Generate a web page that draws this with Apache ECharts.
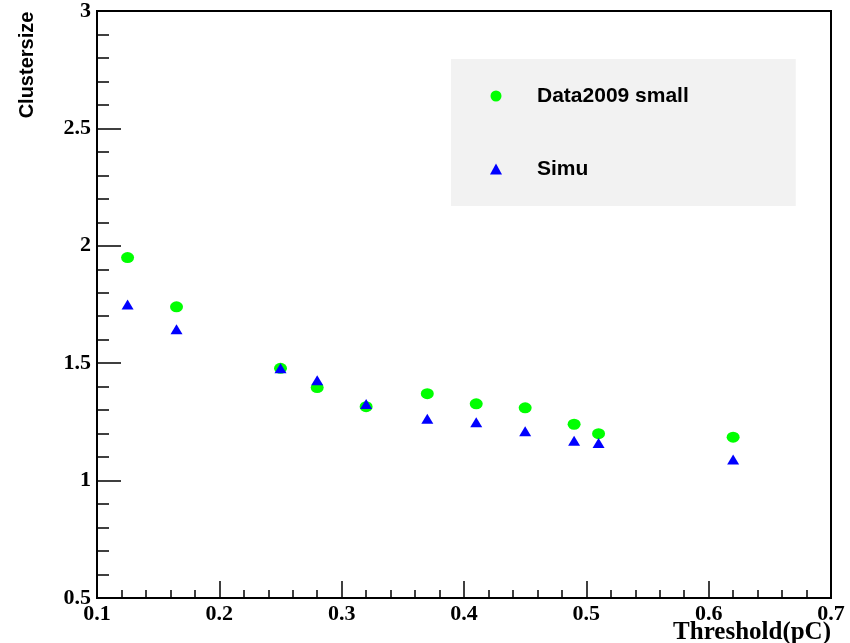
<!DOCTYPE html>
<html>
<head>
<meta charset="utf-8">
<script src="https://cdn.jsdelivr.net/npm/echarts@6/dist/echarts.min.js"></script>
<style>
  html, body { margin: 0; padding: 0; background: #fff; }
  #chart { width: 850px; height: 643px; }
</style>
</head>
<body>
<div id="chart"></div>
<script>
// threshold values (pC)
const thresholds = [0.125, 0.165, 0.25, 0.28, 0.32, 0.37, 0.41, 0.45, 0.49, 0.51, 0.62];
// cluster size, data 2009 small chamber
const dataSmall = [1.95, 1.74, 1.478, 1.396, 1.315, 1.37, 1.327, 1.31, 1.24, 1.2, 1.185];
// cluster size, simulation
const simu = [1.75, 1.645, 1.478, 1.427, 1.326, 1.263, 1.248, 1.21, 1.17, 1.16, 1.09];

const seriesNames = ['Data2009 small', 'Simu'];

const chart = echarts.init(document.getElementById('chart'));

function pairs(xs, ys) {
  return xs.map((x, i) => [x, ys[i]]);
}

const tickFont = {
  fontFamily: 'Liberation Serif',
  fontWeight: 'bold',
  fontSize: 22,
  color: '#000'
};

chart.setOption({
  animation: false,
  backgroundColor: '#fff',
  grid: {
    left: 97,
    right: 19,
    top: 10,
    bottom: 45,
    show: true,
    borderColor: '#000',
    borderWidth: 2,
    backgroundColor: 'transparent'
  },
  xAxis: {
    type: 'value',
    min: 0.1,
    max: 0.7,
    interval: 0.1,
    axisLine: { show: true, lineStyle: { color: '#000', width: 2 } },
    axisTick: { inside: true, length: 17, lineStyle: { color: '#000', width: 1.5 } },
    minorTick: { show: true, splitNumber: 5, length: 8, lineStyle: { color: '#000', width: 1.5 } },
    splitLine: { show: false },
    axisLabel: Object.assign({ margin: 5, showMinLabel: true, showMaxLabel: true }, tickFont)
  },
  yAxis: {
    type: 'value',
    min: 0.5,
    max: 3,
    interval: 0.5,
    axisLine: { show: true, lineStyle: { color: '#000', width: 2 } },
    axisTick: { inside: true, length: 24, lineStyle: { color: '#000', width: 1.5 } },
    minorTick: { show: true, splitNumber: 5, length: 12, lineStyle: { color: '#000', width: 1.5 } },
    splitLine: { show: false },
    axisLabel: Object.assign({ margin: 6, showMinLabel: true, showMaxLabel: true }, tickFont)
  },
  legend: {
    orient: 'vertical',
    left: 451,
    top: 59,
    padding: [26, 107, 26, 39],
    itemGap: 51,
    itemWidth: 12,
    itemHeight: 11,
    backgroundColor: '#f2f2f2',
    textStyle: {
      fontFamily: 'Liberation Sans',
      fontWeight: 'bold',
      fontSize: 21,
      lineHeight: 22,
      color: '#000',
      padding: [0, 0, 0, 30]
    },
    data: seriesNames
  },
  graphic: [
    {
      type: 'text',
      x: 27,
      y: 65,
      rotation: Math.PI / 2,
      style: {
        text: 'Clustersize',
        fontFamily: 'Liberation Sans',
        fontWeight: 'bold',
        fontSize: 20,
        fill: '#000',
        textAlign: 'center',
        textVerticalAlign: 'middle'
      }
    },
    {
      type: 'text',
      right: 19,
      top: 620,
      style: {
        text: 'Threshold(pC)',
        fontFamily: 'Liberation Serif',
        fontWeight: 'bold',
        fontSize: 25,
        fill: '#000'
      }
    }
  ],
  series: [
    {
      name: seriesNames[0],
      type: 'scatter',
      symbol: 'circle',
      symbolSize: [13, 11],
      itemStyle: { color: '#00ff00', opacity: 1 },
      data: pairs(thresholds, dataSmall)
    },
    {
      name: seriesNames[1],
      type: 'scatter',
      symbol: 'triangle',
      symbolSize: [12, 10],
      itemStyle: { color: '#0000ff', opacity: 1 },
      data: pairs(thresholds, simu)
    }
  ]
});
</script>
</body>
</html>
